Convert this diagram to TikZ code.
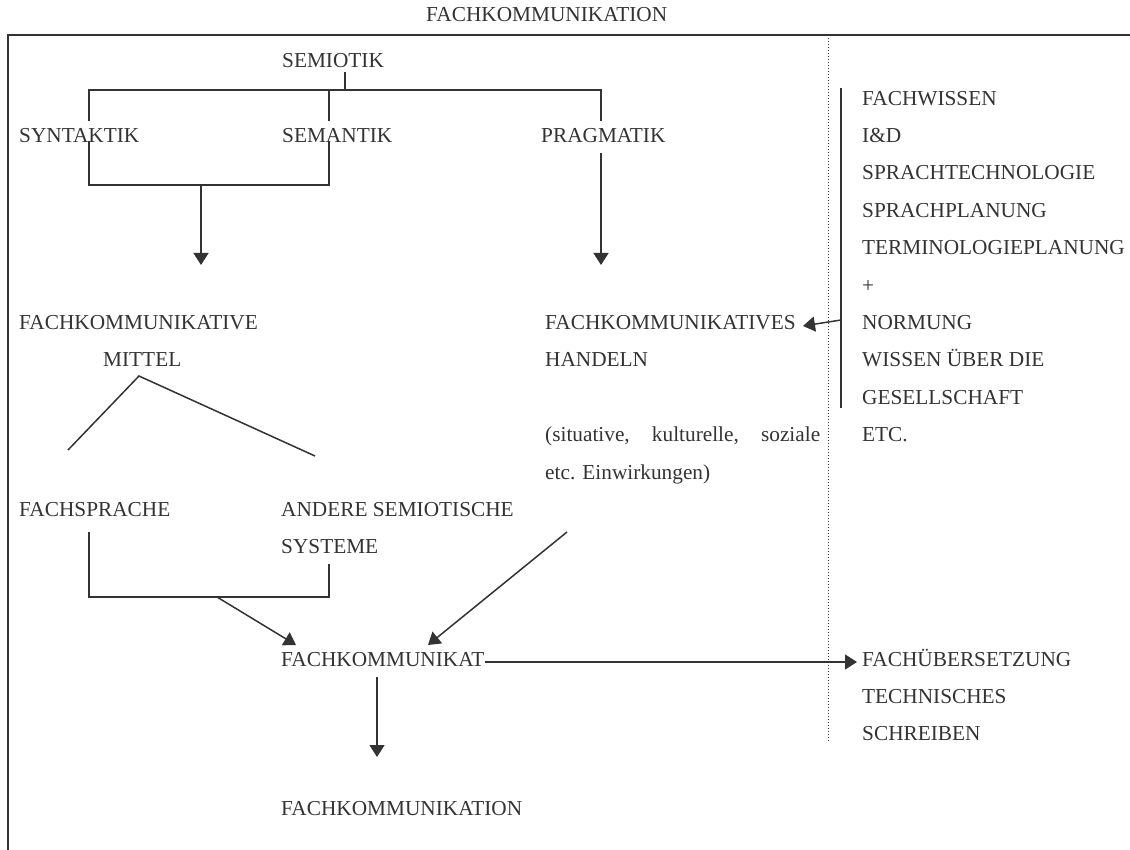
\documentclass[tikz,border=0pt]{standalone}
\usepackage{fontspec}
\setmainfont{Liberation Serif}
\usetikzlibrary{arrows.meta}
\definecolor{ink}{HTML}{333333}
\begin{document}
\begin{tikzpicture}[x=1pt,y=-1pt,
  lbl/.style={anchor=base west,inner sep=0pt,font=\fontsize{21.3}{25}\selectfont,text=ink},
  ln/.style={draw=ink,line width=1.5pt},
  frame/.style={draw=ink,line width=2pt},
  sep/.style={draw=ink,line width=1pt,dotted},
  arr/.style={ln,-{Triangle[length=12pt,width=15pt]}},
  ]
\useasboundingbox (0,0) rectangle (1130,850);

% text lines sit on a regular grid: baseline of row k
\def\row#1{\fpeval{105.1+37.4*(#1)}}

% outer frame (top and left edges) and the dotted separator
\draw[frame] (1130,35) -- (8,35) -- (8,850);
\coordinate (sepT) at (828,35);
\coordinate (sepB) at (828,742);
\draw[sep] (sepT) -- (sepB);

% labels
\node[lbl] (title) at (426,22) {FACHKOMMUNIKATION};
\node[lbl] (semiotik) at (282,\row{-1}) {SEMIOTIK};
\node[lbl] (syntaktik) at (19,\row{1}) {SYNTAKTIK};
\node[lbl] (semantik) at (282,\row{1}) {SEMANTIK};
\node[lbl] (pragmatik) at (541,\row{1}) {PRAGMATIK};
\node[lbl] (fkmittel) at (19,\row{6}) {FACHKOMMUNIKATIVE};
\node[lbl] (mittel) at (103,\row{7}) {MITTEL};
\node[lbl] (fkhandeln) at (545,\row{6}) {FACHKOMMUNIKATIVES};
\node[lbl] (handeln) at (545,\row{7}) {HANDELN};
\node[lbl] (sit1) at (545,\row{9}) {\makebox[275pt][s]{(situative, kulturelle, soziale}};
\node[lbl] (sit2) at (545,\row{10}) {etc. Einwirkungen)};
\node[lbl] (fachsprache) at (19,\row{11}) {FACHSPRACHE};
\node[lbl] (andere) at (281,\row{11}) {ANDERE SEMIOTISCHE};
\node[lbl] (systeme) at (281,\row{12}) {SYSTEME};
\node[lbl] (fkat) at (281,\row{15}) {FACHKOMMUNIKAT};
\node[lbl] (fkation) at (281,\row{19}) {FACHKOMMUNIKATION};
\node[lbl] (fue) at (862,\row{15}) {FACHÜBERSETZUNG};
\node[lbl] (tech) at (862,\row{16}) {TECHNISCHES};
\node[lbl] (schreiben) at (862,\row{17}) {SCHREIBEN};

% right-hand list
\node[lbl] (r1) at (862,\row{0}) {FACHWISSEN};
\node[lbl] (r2) at (862,\row{1}) {I\&D};
\node[lbl] (r3) at (862,\row{2}) {SPRACHTECHNOLOGIE};
\node[lbl] (r4) at (862,\row{3}) {SPRACHPLANUNG};
\node[lbl] (r5) at (862,\row{4}) {TERMINOLOGIEPLANUNG};
\node[lbl] (r6) at (862,\row{5}) {+};
\node[lbl] (r7) at (862,\row{6}) {NORMUNG};
\node[lbl] (r8) at (862,\row{7}) {WISSEN ÜBER DIE};
\node[lbl] (r9) at (862,\row{8}) {GESELLSCHAFT};
\node[lbl] (r10) at (862,\row{9}) {ETC.};

% semiotik tree
\coordinate (sTop) at (345,72);
\coordinate (sBar) at (345,90);
\coordinate (aTop) at (89,90);
\coordinate (aEnd) at (89,121);
\coordinate (bTop) at (329,90);
\coordinate (bEnd) at (329,121);
\coordinate (cTop) at (601,90);
\coordinate (cEnd) at (601,121);
\draw[ln] (sTop) -- (sBar);
\draw[ln] (aEnd) -- (aTop) -- (cTop) -- (cEnd);
\draw[ln] (bTop) -- (bEnd);

% syntaktik + semantik bracket
\coordinate (dL) at (89,141);
\coordinate (dR) at (329,141);
\coordinate (dBL) at (89,185);
\coordinate (dBR) at (329,185);
\coordinate (dMid) at (201,185);
\coordinate (dTip) at (201,265);
\draw[ln] (dL) -- (dBL) -- (dBR) -- (dR);
\draw[arr] (dMid) -- (dTip);

% pragmatik arrow
\coordinate (pTop) at (601,153);
\coordinate (pTip) at (601,265);
\draw[arr] (pTop) -- (pTip);

% mittel split
\coordinate (mApex) at (139,376);
\coordinate (mLe) at (68,450);
\coordinate (mRe) at (315,456);
\draw[ln] (mLe) -- (mApex) -- (mRe);

% right-hand bracket with arrow to handeln
\coordinate (rTop) at (841,88);
\coordinate (rBot) at (841,408);
\coordinate (rArr) at (841,320);
\coordinate (hTip) at (803,326);
\draw[ln] (rTop) -- (rBot);
\draw[arr] (rArr) -- (hTip);

% fachsprache + systeme bracket
\coordinate (fL) at (89,532);
\coordinate (fR) at (329,564);
\coordinate (fBL) at (89,597);
\coordinate (fBR) at (329,597);
\coordinate (fMid) at (217,597);
\coordinate (kL) at (296,645);
\draw[ln] (fL) -- (fBL) -- (fBR) -- (fR);
\draw[arr] (fMid) -- (kL);

% handeln influence arrow
\coordinate (hS) at (567,532);
\coordinate (kR) at (428,645);
\draw[arr] (hS) -- (kR);

% to fachuebersetzung
\coordinate (fueTip) at (857,662);
\draw[arr] (fkat.east |- fueTip) -- (fueTip);

% down to fachkommunikation
\coordinate (kD) at (377,677);
\coordinate (kDt) at (377,757);
\draw[arr] (kD) -- (kDt);
\end{tikzpicture}
\end{document}
